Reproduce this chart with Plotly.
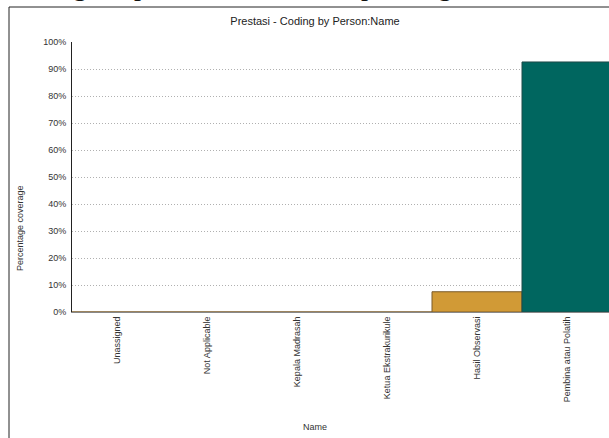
import plotly.graph_objects as go

categories = ["Unassigned", "Not Applicable", "Kepala Madrasah", "Ketua Ekstrakurikule",
              "Hasil Observasi", "Pembina atau Polatih"]
coverage = [0, 0, 0, 0, 7.5, 92.6]
bar_colors = ["#D19A36", "#D19A36", "#D19A36", "#D19A36", "#D19A36", "#00665F"]
line_colors = ["#7A5A28", "#7A5A28", "#7A5A28", "#7A5A28", "#7A5A28", "#1F4A48"]
y_ticks = [0, 10, 20, 30, 40, 50, 60, 70, 80, 90, 100]

W, H = 609, 438
L, R, T, B = 72, 0, 42, 126
pw = W - L - R
ph = H - T - B

def px_x(x):
    return (x - L) / pw

def px_y(y):
    return (H - B - y) / ph

fig = go.Figure()
fig.add_trace(go.Bar(
    x=list(range(len(categories))),
    y=coverage,
    marker=dict(color=bar_colors, line=dict(color=line_colors, width=1)),
    width=1,
    hoverinfo="skip",
))

FONT = "Arial, Liberation Sans, sans-serif"

fig.update_layout(
    width=W, height=H,
    margin=dict(l=L, r=R, t=T, b=B, pad=0),
    paper_bgcolor="white", plot_bgcolor="white",
    showlegend=False,
    bargap=0,
    font=dict(family=FONT, size=9, color="#333333"),
    title=dict(text="Prestasi - Coding by Person:Name", x=315 / W, xanchor="center",
               y=1 - 21 / H, yanchor="middle",
               font=dict(family=FONT, size=11, color="#222222")),
    xaxis=dict(
        range=[-0.5, 5.5 - 3 / 90],
        tickmode="array", tickvals=list(range(len(categories))), ticktext=categories,
        tickangle=-90, ticks="", showgrid=False,
        showline=True, linecolor="#888888", linewidth=1,
        tickfont=dict(family=FONT, size=9, color="#333333"),
        title=dict(text=""),
        automargin=False, fixedrange=True,
    ),
    yaxis=dict(
        range=[0, 100], tickmode="array", tickvals=y_ticks,
        ticktext=[f"{v}%" for v in y_ticks],
        showgrid=True, gridcolor="#B0B0B0", griddash="1px,2px", gridwidth=1,
        showline=True, linecolor="#222222", linewidth=1,
        ticks="", ticklabelstandoff=3,
        tickfont=dict(family=FONT, size=9, color="#333333"),
        title=dict(text=""),
        zeroline=False, automargin=False, fixedrange=True,
    ),
)

# axis titles positioned by pixel
fig.add_annotation(text="Percentage coverage", xref="paper", yref="paper",
                   x=px_x(20), y=px_y(228), textangle=-90, showarrow=False,
                   font=dict(family=FONT, size=9, color="#333333"),
                   xanchor="center", yanchor="middle")
fig.add_annotation(text="Name", xref="paper", yref="paper",
                   x=px_x(315), y=px_y(427), showarrow=False,
                   font=dict(family=FONT, size=9, color="#333333"),
                   xanchor="center", yanchor="middle")

# outer frame of the chart image (clipped on the right and bottom)
fig.add_shape(type="line", xref="paper", yref="paper",
              x0=px_x(9), x1=px_x(W + 5), y0=px_y(7), y1=px_y(7),
              line=dict(color="#222222", width=1))
fig.add_shape(type="line", xref="paper", yref="paper",
              x0=px_x(9), x1=px_x(9), y0=px_y(7), y1=px_y(H + 5),
              line=dict(color="#222222", width=1))

# descenders of the document text cut off above the chart
for ch, xp in [("g", 80), ("p", 141), ("p", 368), ("g", 445)]:
    fig.add_annotation(text=ch, xref="paper", yref="paper",
                       x=px_x(xp), y=px_y(-15), showarrow=False,
                       font=dict(family="Liberation Serif, serif", size=28, color="#111111"),
                       xanchor="center", yanchor="middle")

fig.write_html("out.html", config={"displayModeBar": False, "staticPlot": True},
               post_script="document.body.style.margin='0px';")
